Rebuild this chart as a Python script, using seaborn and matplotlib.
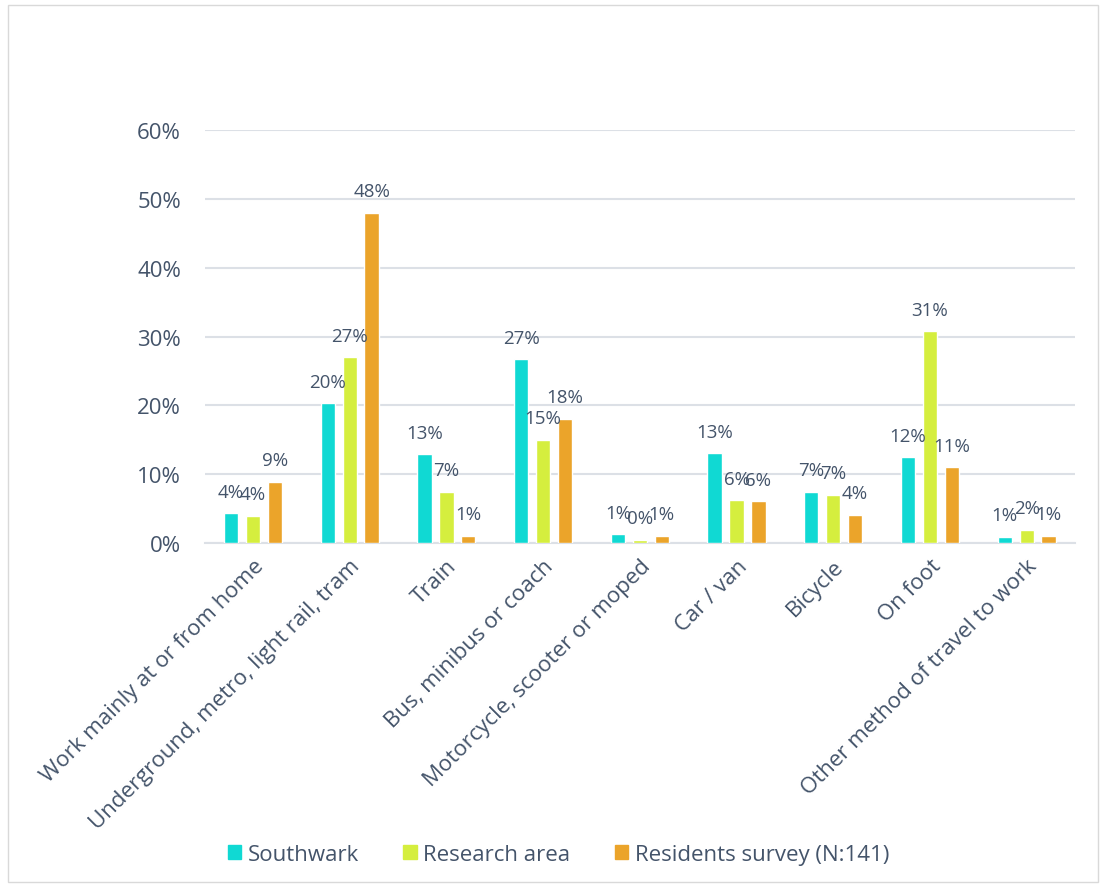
import matplotlib.pyplot as plt
import pandas as pd
import seaborn as sns
from matplotlib.patches import Rectangle

categories = [
    "Work mainly at or from home",
    "Underground, metro, light rail, tram",
    "Train",
    "Bus, minibus or coach",
    "Motorcycle, scooter or moped",
    "Car / van",
    "Bicycle",
    "On foot",
    "Other method of travel to work",
]
southwark = [4.3, 20.3, 12.9, 26.7, 1.2, 13.0, 7.4, 12.4, 0.9]
research_area = [3.9, 27.0, 7.4, 15.0, 0.4, 6.2, 7.0, 30.8, 1.9]
residents = [8.9, 48.0, 1.0, 18.0, 1.0, 6.0, 4.1, 11.0, 1.0]
series_names = ["Southwark", "Research area", "Residents survey (N:141)"]
colors = ["#10D9D3", "#D5EE3E", "#EBA42A"]
text_color = "#44546A"

rows = []
for name, vals in zip(series_names, [southwark, research_area, residents]):
    for cat, v in zip(categories, vals):
        rows.append({"mode": cat, "series": name, "value": v})
df = pd.DataFrame(rows)

sns.set_style("white")
plt.rcParams["font.family"] = ["Open Sans", "DejaVu Sans"]

fig = plt.figure(figsize=(11.06, 8.87), dpi=100)
ax = fig.add_axes([0.185, 0.387, 0.787, 0.465])

sns.barplot(data=df, x="mode", y="value", hue="series", order=categories,
            hue_order=series_names, palette=colors, width=0.68, gap=0.35,
            saturation=1, ax=ax, zorder=3)

for cont, vals in zip(ax.containers, [southwark, research_area, residents]):
    ax.bar_label(cont, labels=[f"{round(v)}%" for v in vals], padding=9,
                 fontsize=13.5, color=text_color)

ax.set_ylim(0, 60)
ax.set_yticks(range(0, 61, 10))
ax.set_yticklabels([f"{t}%" for t in range(0, 61, 10)], fontsize=16, color=text_color)
ax.yaxis.grid(True, color="#DCE0E6", linewidth=1.5, zorder=0)
ax.set_axisbelow(True)
for s in ["top", "right", "left"]:
    ax.spines[s].set_visible(False)
ax.spines["bottom"].set_color("#DCE0E6")
ax.spines["bottom"].set_linewidth(1.5)
ax.tick_params(axis="y", length=0, pad=17)
ax.set_xticks(range(len(categories)))
ax.set_xticklabels(categories, rotation=45, ha="right", rotation_mode="anchor",
                   fontsize=16, color=text_color)
ax.tick_params(axis="x", length=0, pad=9)
ax.set_xlabel("")
ax.set_ylabel("")

ax.legend_.remove()
handles = [Rectangle((0, 0), 1, 1, color=c) for c in colors]
fig.legend(handles, series_names, loc="center", bbox_to_anchor=(0.505, 0.036),
           ncol=3, frameon=False, fontsize=16, labelcolor=text_color,
           handlelength=0.6, handleheight=0.6, handletextpad=0.3, columnspacing=2.0)

fig.patches.append(Rectangle((0.007, 0.005), 0.986, 0.988, transform=fig.transFigure,
                             fill=False, edgecolor="#D9D9D9", linewidth=1))

plt.savefig("out.png", dpi=100)
